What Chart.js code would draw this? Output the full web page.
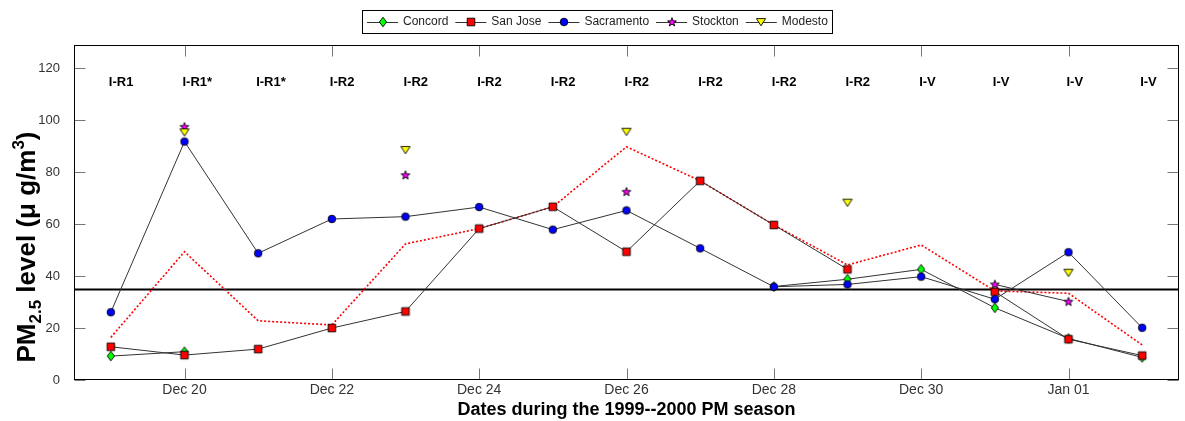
<!DOCTYPE html>
<html>
<head>
<meta charset="utf-8">
<script src="https://cdn.jsdelivr.net/npm/chart.js@4.4.1/dist/chart.umd.min.js"></script>
<style>
  html, body { margin: 0; padding: 0; background: #fff; }
  #wrap { width: 1185px; height: 421px; }
</style>
</head>
<body>
<div id="wrap"><canvas id="pmChart" width="1185" height="421"></canvas></div>
<script>
// --- Data: one value per day, Dec 19 1999 .. Jan 02 2000 ---
const dateLabels = ['Dec 19', 'Dec 20', 'Dec 21', 'Dec 22', 'Dec 23', 'Dec 24', 'Dec 25', 'Dec 26',
    'Dec 27', 'Dec 28', 'Dec 29', 'Dec 30', 'Dec 31', 'Jan 01', 'Jan 02'];
const xTickIdx = [1, 3, 5, 7, 9, 11, 13];
const yTickVals = [0, 20, 40, 60, 80, 100, 120];
const episodeTags = ['I-R1', 'I-R1*', 'I-R1*', 'I-R2', 'I-R2', 'I-R2', 'I-R2', 'I-R2',
    'I-R2', 'I-R2', 'I-R2', 'I-V', 'I-V', 'I-V', 'I-V'];

const concord    = [9.2, 10.9, null, null, null, null, null, null, null, 36, 38.8, 42.6, 27.8, 16, 8.7];
const sanJose    = [12.8, 9.6, 11.9, 20, 26.4, 58.3, 66.7, 49.4, 76.7, 59.7, 42.6, null, 34, 15.7, 9.4];
const sacramento = [26.1, 91.8, 48.8, 62, 62.9, 66.6, 57.9, 65.3, 50.7, 35.9, 36.8, 39.8, 31.1, 49.2, 20.1];
const stockton   = [null, 97.5, null, null, 78.9, null, null, 72.5, null, null, null, null, 36.8, 30.2, null];
const modesto    = [null, 95.4, null, null, 88.6, null, null, 95.6, null, null, 68.3, null, null, 41.3, null];
const regional   = [16.4, 49.4, 22.8, 21.2, 52.4, 58.3, 66.7, 89.8, 76.7, 59.7, 44.3, 52, 34.3, 33.4, 13.5];
const standard = 35; // 24-h PM2.5 standard

const FONT = "'Liberation Sans', Arial, sans-serif";

// --- Marker sprites (MATLAB-style filled markers with black edge) ---
function makeMarker(shape, fill) {
    const c = document.createElement('canvas');
    c.width = 12; c.height = 12;
    const g = c.getContext('2d');
    g.fillStyle = fill;
    g.strokeStyle = '#000';
    g.lineWidth = 0.9;
    g.beginPath();
    if (shape === 'diamond') {
        g.moveTo(6, 1.2); g.lineTo(9.6, 6); g.lineTo(6, 10.8); g.lineTo(2.4, 6); g.closePath();
    } else if (shape === 'square') {
        g.rect(2.2, 2.2, 7.6, 7.6);
    } else if (shape === 'circle') {
        g.arc(6, 6, 3.8, 0, Math.PI * 2);
    } else if (shape === 'star') {
        for (let i = 0; i < 10; i++) {
            const r = i % 2 === 0 ? 4.6 : 1.9;
            const a = -Math.PI / 2 + i * Math.PI / 5;
            const px = 6 + r * Math.cos(a), py = 6.3 + r * Math.sin(a);
            i === 0 ? g.moveTo(px, py) : g.lineTo(px, py);
        }
        g.closePath();
    } else if (shape === 'triangleDown') {
        g.moveTo(1.4, 2.6); g.lineTo(10.6, 2.6); g.lineTo(6, 9.8); g.closePath();
    }
    g.fill();
    g.stroke();
    return c;
}

const markers = {
    concord: makeMarker('diamond', '#00ff00'),
    sanJose: makeMarker('square', '#ff0000'),
    sacramento: makeMarker('circle', '#0000ff'),
    stockton: makeMarker('star', '#ff00ff'),
    modesto: makeMarker('triangleDown', '#ffff00')
};

const toPoints = arr => arr.map((v, i) => ({ x: i, y: v }));

function stationSet(label, values, marker, order) {
    return {
        label: label,
        data: toPoints(values),
        showLine: true,
        borderColor: '#333',
        borderWidth: 1,
        pointStyle: marker,
        pointRadius: 5,
        order: order
    };
}

const datasets = [
    {
        label: 'Regional',
        data: toPoints(regional),
        borderColor: '#ff0000',
        borderWidth: 1.6,
        borderDash: [2, 2],
        pointRadius: 0,
        order: 10
    },
    stationSet('Concord', concord, markers.concord, 5),
    stationSet('San Jose', sanJose, markers.sanJose, 4),
    stationSet('Sacramento', sacramento, markers.sacramento, 3),
    stationSet('Stockton', stockton, markers.stockton, 2),
    stationSet('Modesto', modesto, markers.modesto, 1)
];

const legendItems = [
    { name: 'Concord', marker: markers.concord },
    { name: 'San Jose', marker: markers.sanJose },
    { name: 'Sacramento', marker: markers.sacramento },
    { name: 'Stockton', marker: markers.stockton },
    { name: 'Modesto', marker: markers.modesto }
];

// --- Standard line, frame, inward ticks, date labels, episode tags, legend and axis titles ---
const decorPlugin = {
    id: 'decor',
    beforeDatasetsDraw(chart) {
        const { ctx, chartArea: a, scales } = chart;
        const y = Math.round(scales.y.getPixelForValue(standard)) + 0.5;
        ctx.save();
        ctx.strokeStyle = '#000';
        ctx.lineWidth = 2;
        ctx.beginPath();
        ctx.moveTo(a.left, y);
        ctx.lineTo(a.right, y);
        ctx.stroke();
        ctx.restore();
    },
    afterDraw(chart) {
        const { ctx, chartArea: a, scales } = chart;
        const L = Math.round(a.left) + 0.5, R = Math.round(a.right) - 0.5;
        const T = Math.round(a.top) + 0.5, B = Math.round(a.bottom) - 0.5;
        ctx.save();

        // inward tick marks
        ctx.strokeStyle = '#777';
        ctx.lineWidth = 1;
        ctx.beginPath();
        xTickIdx.forEach(v => {
            const px = Math.round(scales.x.getPixelForValue(v)) + 0.5;
            ctx.moveTo(px, B); ctx.lineTo(px, B - 11);
            ctx.moveTo(px, T); ctx.lineTo(px, T + 11);
        });
        yTickVals.forEach(v => {
            const py = Math.round(scales.y.getPixelForValue(v)) + 0.5;
            ctx.moveTo(L, py); ctx.lineTo(L + 11, py);
            ctx.moveTo(R, py); ctx.lineTo(R - 11, py);
        });
        ctx.stroke();

        // frame
        ctx.strokeStyle = '#000';
        ctx.strokeRect(L, T, R - L, B - T);

        // date labels under the x axis
        ctx.fillStyle = '#333';
        ctx.font = '14px ' + FONT;
        ctx.textAlign = 'center';
        ctx.textBaseline = 'middle';
        xTickIdx.forEach(v => {
            ctx.fillText(dateLabels[v], scales.x.getPixelForValue(v), B + 11);
        });

        // episode tags above each day
        ctx.fillStyle = '#000';
        ctx.font = 'bold 13px ' + FONT;
        ctx.textAlign = 'left';
        ctx.textBaseline = 'middle';
        const tagY = scales.y.getPixelForValue(114.6);
        episodeTags.forEach((t, i) => {
            ctx.fillText(t, scales.x.getPixelForValue(i) - 2, tagY);
        });

        // legend
        ctx.font = '12px ' + FONT;
        const lgTop = 10.5, lgH = 23, lgMid = 22;
        let cx = 367;
        const boxLeft = 362.5;
        legendItems.forEach(item => {
            ctx.strokeStyle = '#333';
            ctx.beginPath();
            ctx.moveTo(cx, lgMid + 0.5);
            ctx.lineTo(cx + 31, lgMid + 0.5);
            ctx.stroke();
            ctx.drawImage(item.marker, Math.round(cx + 15.5 - 6), lgMid - 6);
            ctx.fillStyle = '#222';
            ctx.textBaseline = 'middle';
            ctx.fillText(item.name, cx + 36, lgMid);
            cx += 36 + ctx.measureText(item.name).width + 7;
        });
        ctx.strokeStyle = '#000';
        ctx.strokeRect(boxLeft, lgTop, Math.round(cx - 3) - boxLeft + 0.5, lgH);

        // x-axis title
        ctx.fillStyle = '#000';
        ctx.font = 'bold 18px ' + FONT;
        ctx.textAlign = 'center';
        ctx.textBaseline = 'middle';
        ctx.fillText('Dates during the 1999--2000 PM season', (a.left + a.right) / 2, 410);

        // y-axis title with sub- and superscript
        const parts = [
            { t: 'PM', size: 26, dy: 0 },
            { t: '2.5', size: 17, dy: 6 },
            { t: ' level (\u03bc g/m', size: 26, dy: 0 },
            { t: '3', size: 17, dy: -11 },
            { t: ')', size: 26, dy: 0 }
        ];
        let total = 0;
        parts.forEach(p => {
            ctx.font = 'bold ' + p.size + 'px ' + FONT;
            p.w = ctx.measureText(p.t).width;
            total += p.w;
        });
        ctx.translate(26, 247);
        ctx.rotate(-Math.PI / 2);
        ctx.textAlign = 'left';
        ctx.textBaseline = 'alphabetic';
        let ox = -total / 2;
        parts.forEach(p => {
            ctx.font = 'bold ' + p.size + 'px ' + FONT;
            ctx.fillText(p.t, ox, 9 + p.dy);
            ox += p.w;
        });
        ctx.restore();
    }
};

new Chart(document.getElementById('pmChart').getContext('2d'), {
    type: 'line',
    data: { datasets: datasets },
    options: {
        responsive: false,
        devicePixelRatio: 1,
        animation: false,
        events: [],
        layout: { padding: { top: 45, right: 4, left: 0, bottom: 0 } },
        plugins: {
            legend: { display: false },
            tooltip: { enabled: false }
        },
        scales: {
            x: {
                type: 'linear',
                min: -0.5,
                max: 14.5,
                grid: { display: false },
                border: { display: false },
                afterBuildTicks: scale => { scale.ticks = xTickIdx.map(v => ({ value: v })); },
                afterFit: scale => { scale.height = 41; scale.paddingLeft = 0; scale.paddingRight = 0; },
                ticks: { display: false }
            },
            y: {
                min: 0,
                max: 129,
                grid: { display: false },
                border: { display: false },
                afterBuildTicks: scale => { scale.ticks = yTickVals.map(v => ({ value: v })); },
                afterFit: scale => { scale.width = 74; },
                ticks: {
                    padding: 6,
                    color: '#333',
                    font: { family: FONT, size: 13 }
                }
            }
        }
    },
    plugins: [decorPlugin]
});
</script>
</body>
</html>
